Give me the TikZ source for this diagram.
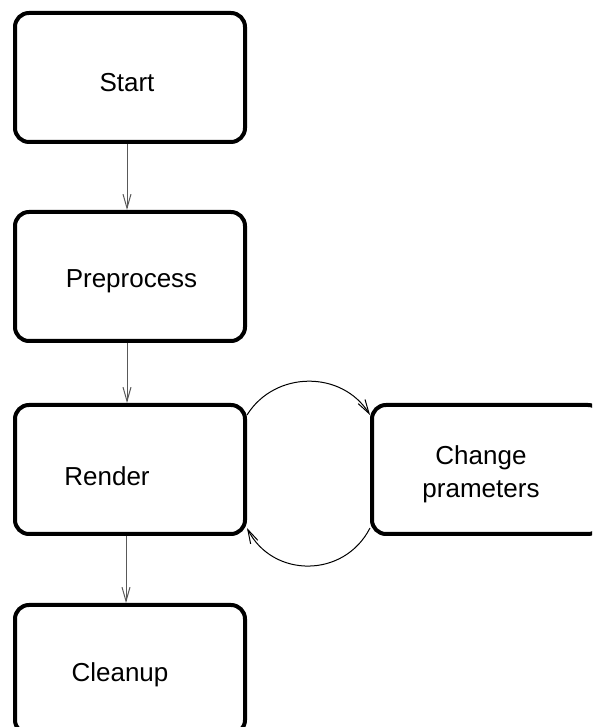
\documentclass[tikz,border=0pt]{standalone}
\usepackage{fontspec}
\setmainfont{Liberation Sans}
\usetikzlibrary{positioning}
\usetikzlibrary{arrows.meta}
\tikzset{%
	>={Straight Barb[length=14pt,width=8pt]},
	% Specifications for style of nodes:
	base/.style = {rectangle, rounded corners=14pt, draw=black, line width=4pt, minimum width=230pt, minimum height=129pt, inner sep=0pt},
	flow/.style = {line width=1pt, draw=black!65},
	loop/.style = {line width=1pt, draw=black},
}

\begin{document}
\begin{tikzpicture}[font=\fontsize{26}{33}\selectfont]
		\useasboundingbox (0,0) rectangle (592pt,727pt);
		\clip (0,0) rectangle (592pt,727pt);
		\node (Start) [base] at (130pt,649.5pt) {};
		\node (Pre) [base, below=66pt of Start] {};
		\node (Render) [base, below=60pt of Pre] {};
		\node (Cleanup) [base, below=67pt of Render] {};
		\node (Change) [base, right=123pt of Render] {};
		
		\node at ([shift={(-3pt,-5.5pt)}]Start.center) {Start};
		\node at ([shift={(1.5pt,-5pt)}]Pre.center) {Preprocess};
		\node at ([shift={(-23pt,-7pt)}]Render.center) {Render};
		\node at ([shift={(-10pt,-5pt)}]Cleanup.center) {Cleanup};
		\node [align=center] at ([shift={(-6pt,-5pt)}]Change.center) {Change\\prameters};
		
		\draw [flow,->] ([xshift=-3pt]Start.south) -- ([xshift=-3pt]Pre.north);
		\draw [flow,->] ([xshift=-3pt]Pre.south) -- ([xshift=-3pt]Render.north);
		\draw [flow,->] ([xshift=-4pt]Render.south) -- ([xshift=-4pt]Cleanup.north);
		
		\draw [loop,->] ([yshift=-12pt]Render.north east) to[out=58,in=122,looseness=1.1] ([yshift=-12pt]Change.north west);
		\draw [loop,->] ([yshift=8pt]Change.south west) to[out=-117,in=-63,looseness=1.18] ([yshift=8pt]Render.south east);
		
     \end{tikzpicture}
\end{document}
